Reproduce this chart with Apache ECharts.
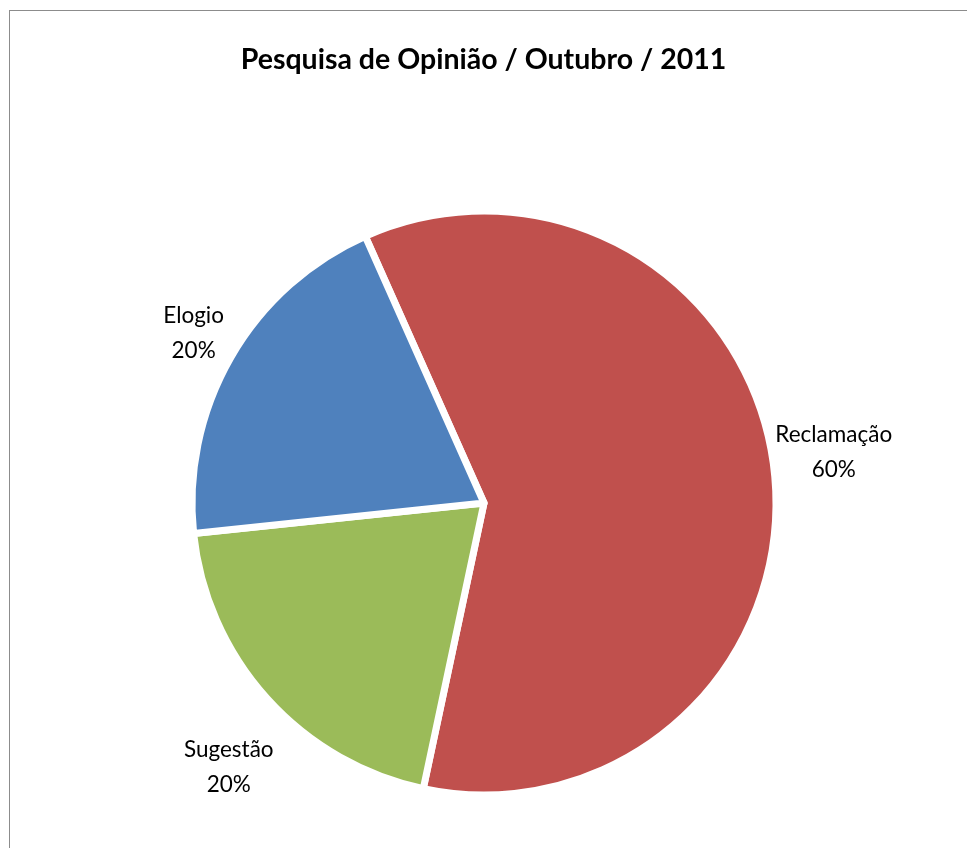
<!DOCTYPE html>
<html>
<head>
<meta charset="utf-8">
<script src="https://cdn.jsdelivr.net/npm/echarts@6/dist/echarts.min.js"></script>
<style>
  html, body { margin: 0; padding: 0; background: #fff; }
  #frame { position: absolute; left: 9px; top: 10px; width: 1000px; height: 900px; border: 1px solid #8c8c8c; }
  #chart { position: absolute; left: 0; top: 0; width: 967px; height: 848px; }
</style>
</head>
<body>
<div id="frame"></div>
<div id="chart"></div>
<script>
var categories = ['Reclamação', 'Sugestão', 'Elogio'];
var values = [60, 20, 20];
var colors = ['#C0504D', '#9BBB59', '#4F81BD'];

// small hand nudges so the labels sit where Excel put them
var labelNudge = [[-22, -19], [26, 59], [14, -17]];

var myChart = echarts.init(document.getElementById('chart'));

var pieData = categories.map(function (name, i) {
    return { name: name, value: values[i], itemStyle: { color: colors[i] } };
});

option = {
    backgroundColor: 'transparent',
    title: {
        text: 'Pesquisa de Opinião / Outubro / 2011',
        left: 'center',
        top: 40,
        textStyle: {
            fontFamily: 'Lato',
            fontWeight: 'bold',
            fontSize: 28.5,
            color: '#000'
        }
    },
    series: [
        {
            type: 'pie',
            center: [484, 503],
            radius: 292,
            startAngle: 114,
            clockwise: true,
            animation: false,
            itemStyle: {
                borderColor: '#fff',
                borderWidth: 7
            },
            label: {
                show: true,
                position: 'outside',
                formatter: '{b}\n{d}%',
                fontFamily: 'Lato',
                fontSize: 22.5,
                lineHeight: 35,
                color: '#000'
            },
            labelLine: {
                show: false,
                length: 14,
                length2: 4
            },
            labelLayout: function (p) {
                // keep the library's placement, centre the two lines
                var n = labelNudge[p.dataIndex];
                return {
                    x: p.labelRect.x + p.labelRect.width / 2 + n[0],
                    y: p.labelRect.y + p.labelRect.height / 2 + n[1],
                    align: 'center',
                    verticalAlign: 'middle'
                };
            },
            data: pieData
        }
    ]
};

myChart.setOption(option);
</script>
</body>
</html>
